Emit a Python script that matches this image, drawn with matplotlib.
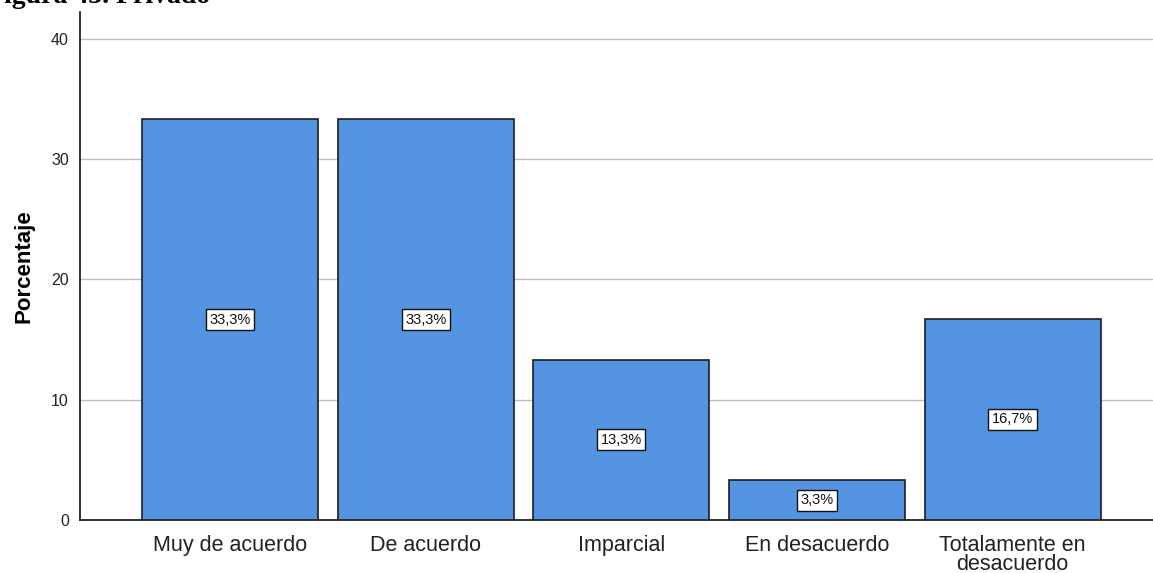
import matplotlib.pyplot as plt

categorias = ['Muy de acuerdo', 'De acuerdo', 'Imparcial', 'En desacuerdo', 'Totalamente en\ndesacuerdo']
porcentajes = [33.3, 33.3, 13.3, 3.3, 16.7]
etiquetas = ['33,3%', '33,3%', '13,3%', '3,3%', '16,7%']
marcas_y = [0, 10, 20, 30, 40]

plt.rcParams['font.family'] = ['Liberation Sans', 'DejaVu Sans']

fig = plt.figure(figsize=(11.53, 5.73), dpi=100)
ax = fig.add_axes([0.0694, 0.0925, 0.9306, 0.8865])

pos = list(range(len(categorias)))
ax.bar(pos, porcentajes, width=0.9, color='#5594e2', edgecolor='#1e1e1e', linewidth=1.2, zorder=3)

for x, v, t in zip(pos, porcentajes, etiquetas):
    ax.text(x, v / 2, t, ha='center', va='center', fontsize=10.5, color='#111111', zorder=4,
            bbox=dict(boxstyle='square,pad=0.24', facecolor='white', edgecolor='#111111', linewidth=1))

ax.set_xlim(-0.767, 4.718)
ax.set_ylim(0, 42.2)
ax.set_xticks(pos)
ax.set_xticklabels(categorias, fontsize=15.5, color='#222222', linespacing=0.87)
ax.set_yticks(marcas_y)
ax.set_yticklabels([str(m) for m in marcas_y], fontsize=11.5, color='#222222')
ax.tick_params(axis='both', length=0)
ax.tick_params(axis='y', pad=8)
ax.tick_params(axis='x', pad=11)
ax.grid(axis='y', color='#bdbdbd', linewidth=1, zorder=0)
ax.set_ylabel('Porcentaje', fontsize=16, fontweight='bold', labelpad=12)

for lado in ['top', 'right']:
    ax.spines[lado].set_visible(False)
for lado in ['left', 'bottom']:
    ax.spines[lado].set_color('#111111')
    ax.spines[lado].set_linewidth(1.2)

fig.text(-13 / 1153, 1 - 3 / 573, 'Figura 43. Privado', family='Liberation Serif',
         fontsize=20, fontweight='bold', va='baseline', ha='left')

fig.savefig('out.png', dpi=100)
